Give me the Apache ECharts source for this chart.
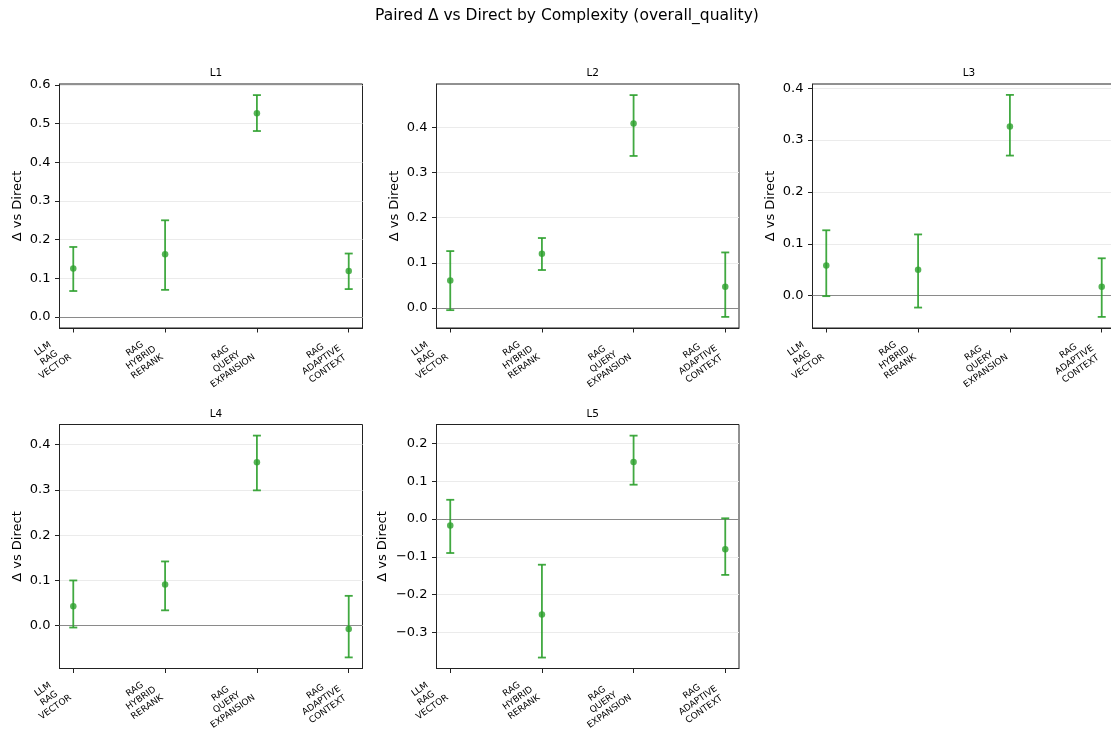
<!DOCTYPE html>
<html><head><meta charset="utf-8">
<script src="https://cdn.jsdelivr.net/npm/echarts@6/dist/echarts.min.js"></script>
<style>html,body{margin:0;padding:0;background:#fff}#c{width:1111px;height:740px}</style>
</head><body><div id="c"></div>
<script>
// ---- data ----
const panelNames = ['L1', 'L2', 'L3', 'L4', 'L5'];
const categoryLines = [
  ['LLM', 'RAG', 'VECTOR'],
  ['RAG', 'HYBRID', 'RERANK'],
  ['RAG', 'QUERY', 'EXPANSION'],
  ['RAG', 'ADAPTIVE', 'CONTEXT']
];
const meanL1 = [0.125, 0.162, 0.527, 0.119];
const meanL2 = [0.061, 0.120, 0.409, 0.047];
const meanL3 = [0.058, 0.050, 0.326, 0.017];
const meanL4 = [0.043, 0.091, 0.361, -0.007];
const meanL5 = [-0.017, -0.253, 0.151, -0.080];
const lowL1 = [0.067, 0.070, 0.481, 0.072];
const lowL2 = [-0.005, 0.084, 0.337, -0.020];
const lowL3 = [-0.001, -0.023, 0.270, -0.041];
const lowL4 = [-0.004, 0.034, 0.299, -0.070];
const lowL5 = [-0.090, -0.367, 0.091, -0.148];
const highL1 = [0.181, 0.250, 0.574, 0.164];
const highL2 = [0.126, 0.155, 0.472, 0.123];
const highL3 = [0.126, 0.118, 0.387, 0.072];
const highL4 = [0.100, 0.142, 0.420, 0.066];
const highL5 = [0.051, -0.121, 0.221, 0.002];
const yMin = [-0.0287, -0.0446, -0.0624, -0.0945, -0.396];
const yMax = [0.6027, 0.4966, 0.408, 0.4445, 0.2505];
const yTicksL1 = [0, 0.1, 0.2, 0.3, 0.4, 0.5, 0.6];
const yTicksL2 = [0, 0.1, 0.2, 0.3, 0.4];
const yTicksL3 = [0, 0.1, 0.2, 0.3, 0.4];
const yTicksL4 = [0, 0.1, 0.2, 0.3, 0.4];
const yTicksL5 = [-0.3, -0.2, -0.1, 0, 0.1, 0.2];
const xTicks = [0, 1, 2, 3];

const means = [meanL1, meanL2, meanL3, meanL4, meanL5];
const lows = [lowL1, lowL2, lowL3, lowL4, lowL5];
const highs = [highL1, highL2, highL3, highL4, highL5];
const yTicks = [yTicksL1, yTicksL2, yTicksL3, yTicksL4, yTicksL5];

// ---- layout ----
const FONT = 'DejaVu Sans';
const GREEN = '#2ca02c';
const grids = [
  {left: 59.5, top: 84, width: 303, height: 244},
  {left: 436.5, top: 84, width: 302.5, height: 244},
  {left: 812.5, top: 84, width: 303, height: 244},
  {left: 59.5, top: 424.5, width: 303, height: 244},
  {left: 436.5, top: 424.5, width: 302.5, height: 244}
];
const nameGaps = [35, 35, 35, 35, 47];

const option = {
  backgroundColor: '#fff',
  animation: false,
  title: [{
    text: 'Paired Δ vs Direct by Complexity (overall_quality)',
    left: 562, top: 3, textAlign: 'center',
    textStyle: {fontFamily: FONT, fontSize: 15.5, fontWeight: 'normal', color: '#000'}
  }].concat(panelNames.map((n, i) => ({
    text: n,
    left: grids[i].left + grids[i].width / 2, top: grids[i].top - 21, textAlign: 'center',
    textStyle: {fontFamily: FONT, fontSize: 10.5, fontWeight: 'normal', color: '#000'}
  }))),
  grid: grids.map(g => Object.assign({
    show: true, borderColor: '#222', borderWidth: 1, backgroundColor: 'transparent',
    containLabel: false, outerBoundsMode: 'none'
  }, g)),
  xAxis: panelNames.map((n, i) => ({
    type: 'value', gridIndex: i, min: -0.15, max: 3.15,
    axisLine: {show: true, onZero: false, lineStyle: {color: '#222', width: 1}},
    axisTick: {show: true, length: 4.5, customValues: xTicks, lineStyle: {color: '#222'}},
    splitLine: {show: false},
    axisLabel: {
      customValues: xTicks,
      rotate: 35, align: 'right', verticalAlign: 'middle',
      margin: 13, padding: [0, 11, 0, 0],
      fontFamily: FONT, fontSize: 9, color: '#000',
      formatter: v => categoryLines[Math.round(v)].map(s => '{c|' + s + '}').join('\n'),
      rich: {c: {align: 'center', fontFamily: FONT, fontSize: 9, lineHeight: 10.8, color: '#000'}}
    }
  })),
  yAxis: panelNames.map((n, i) => ({
    type: 'value', gridIndex: i, min: yMin[i], max: yMax[i],
    name: 'Δ vs Direct', nameLocation: 'middle', nameRotate: 90, nameGap: nameGaps[i],
    nameTextStyle: {fontFamily: FONT, fontSize: 13, color: '#000'},
    axisLine: {show: true, onZero: false, lineStyle: {color: '#222', width: 1}},
    axisTick: {show: true, length: 4.5, customValues: yTicks[i], lineStyle: {color: '#222'}},
    splitLine: {show: true, lineStyle: {color: '#ebebeb', width: 1}},
    axisLabel: {
      customValues: yTicks[i], margin: 9,
      fontFamily: FONT, fontSize: 13, color: '#000',
      formatter: v => v.toFixed(1).replace('-', '\u2212')
    }
  })),
  series: []
};

panelNames.forEach((n, i) => {
  option.series.push({
    type: 'custom', xAxisIndex: i, yAxisIndex: i, z: 3,
    encode: {x: 0, y: [1, 2]},
    data: xTicks.map(k => [k, lows[i][k], highs[i][k]]),
    renderItem: (params, api) => {
      const lo = api.coord([api.value(0), api.value(1)]);
      const hi = api.coord([api.value(0), api.value(2)]);
      const cap = 4;
      const st = {stroke: GREEN, lineWidth: 1.8, opacity: 0.9};
      return {type: 'group', children: [
        {type: 'line', shape: {x1: lo[0], y1: lo[1], x2: hi[0], y2: hi[1]}, style: st},
        {type: 'line', shape: {x1: lo[0] - cap, y1: lo[1], x2: lo[0] + cap, y2: lo[1]}, style: st},
        {type: 'line', shape: {x1: hi[0] - cap, y1: hi[1], x2: hi[0] + cap, y2: hi[1]}, style: st}
      ]};
    }
  });
  option.series.push({
    type: 'scatter', xAxisIndex: i, yAxisIndex: i, z: 4,
    symbol: 'circle', symbolSize: 6.5,
    itemStyle: {color: GREEN},
    data: xTicks.map(k => [k, means[i][k]]),
    markLine: {
      silent: true, symbol: 'none', label: {show: false}, z: 2,
      lineStyle: {color: '#8a8a8a', width: 1, type: 'solid'},
      data: [{yAxis: 0}]
    }
  });
});

const chart = echarts.init(document.getElementById('c'), null, {renderer: 'canvas'});
chart.setOption(option);
</script>
</body></html>
